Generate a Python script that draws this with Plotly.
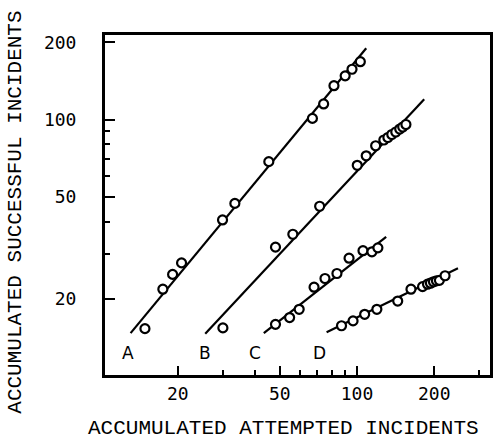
import numpy as np
import plotly.graph_objects as go

# ---- data (log-log) ----
a_x = [14.9, 17.5, 19.1, 20.7, 29.9, 33.4, 45.3, 67.0, 74.1, 81.3, 89.9, 95.6, 103]
a_y = [15.3, 21.8, 24.9, 27.6, 40.6, 47.1, 68.5, 101, 115, 135.5, 148, 157, 168]
a_fit_x = [13.1, 108.6]
a_fit_y = [14.7, 189.5]

b_x = [30.0, 48.1, 56.2, 71.5, 100.2, 108.6, 118.2, 127.2, 131.9, 136.6, 141.6, 146.7, 150.7, 155.1]
b_y = [15.4, 31.8, 35.7, 45.9, 66.3, 72.2, 79.0, 83.2, 85.1, 87.4, 89.4, 91.8, 93.5, 95.6]
b_fit_x = [25.6, 182.8]
b_fit_y = [14.6, 119.9]

c_x = [48.1, 54.6, 59.5, 68.0, 75.0, 83.5, 93.1, 105.5, 114.3, 120.6]
c_y = [15.9, 16.9, 18.2, 22.2, 24.0, 25.1, 28.8, 30.8, 30.5, 31.6]
c_fit_x = [43.3, 129.9]
c_fit_y = [14.7, 34.9]

d_x = [87.0, 96.5, 107.1, 119.5, 144.1, 162.3, 180.1, 188.3, 193.3, 198.6, 204.0, 209.5, 220.4]
d_y = [15.7, 16.4, 17.4, 18.2, 19.6, 21.8, 22.3, 22.8, 23.0, 23.3, 23.5, 23.6, 24.6]
d_fit_x = [76.1, 247.5]
d_fit_y = [14.8, 26.3]

series_labels = ["A", "B", "C", "D"]
label_x = [12.75, 25.5, 40.0, 71.1]
label_y = [12.26, 12.26, 12.26, 12.26]

x_tickvals = [20, 50, 100, 200]
x_ticktext = ["20", "50", "100", "200"]
x_minor = [30, 40, 60, 70, 80, 90, 300]
y_tickvals = [20, 50, 100, 200]
y_ticktext = ["20", "50", "100", "200"]
y_minor = [30, 40, 60, 70, 80, 90]

x_title = "ACCUMULATED ATTEMPTED INCIDENTS"
y_title = "ACCUMULATED SUCCESSFUL INCIDENTS"

fig = go.Figure()
series = [(a_x, a_y, a_fit_x, a_fit_y), (b_x, b_y, b_fit_x, b_fit_y),
          (c_x, c_y, c_fit_x, c_fit_y), (d_x, d_y, d_fit_x, d_fit_y)]
for sx, sy, fx, fy in series:
    fig.add_trace(go.Scatter(x=fx, y=fy, mode="lines",
                             line=dict(color="black", width=2.2),
                             showlegend=False, hoverinfo="skip"))
for sx, sy, fx, fy in series:
    fig.add_trace(go.Scatter(x=sx, y=sy, mode="markers",
                             marker=dict(symbol="circle", size=9, color="white",
                                         line=dict(color="black", width=2.2)),
                             showlegend=False))

for lab, lx, ly in zip(series_labels, label_x, label_y):
    fig.add_annotation(x=np.log10(lx), y=np.log10(ly), text=lab, showarrow=False,
                       xref="x", yref="y",
                       font=dict(family="DejaVu Sans", size=17, color="black"))

L, R, T, B = 105, 2, 35, 67
W, H = 495, 442
pw, ph = W - L - R, H - T - B

fig.add_annotation(text=x_title, xref="paper", yref="paper",
                   x=(285 - L) / pw, y=(H - B - 429) / ph, showarrow=False,
                   xanchor="center", yanchor="middle", borderpad=0,
                   font=dict(family="Liberation Mono", size=21, color="black"))
fig.add_annotation(text=y_title, xref="paper", yref="paper", textangle=-90,
                   x=(15 - L) / pw, y=(H - B - 212) / ph, showarrow=False,
                   xanchor="center", yanchor="middle", borderpad=0,
                   font=dict(family="Liberation Mono", size=21, color="black"))

fig.update_xaxes(type="log", range=[1.0175, 2.5184],
                 tickvals=x_tickvals, ticktext=x_ticktext,
                 ticks="inside", ticklen=9, tickwidth=2, tickcolor="black",
                 minor=dict(tickvals=x_minor, ticks="inside", ticklen=5,
                            tickwidth=2, tickcolor="black"),
                 showline=True, linewidth=3, linecolor="black", mirror=True,
                 showgrid=False, zeroline=False, ticklabelstandoff=0,
                 tickfont=dict(family="DejaVu Sans Mono", size=18, color="black"))
fig.update_yaxes(type="log", range=[1.0039, 2.3295],
                 tickvals=y_tickvals, ticktext=y_ticktext,
                 ticks="inside", ticklen=10, tickwidth=2, tickcolor="black",
                 minor=dict(tickvals=y_minor, ticks="inside", ticklen=5,
                            tickwidth=2, tickcolor="black"),
                 showline=True, linewidth=3, linecolor="black", mirror=True,
                 showgrid=False, zeroline=False, ticklabelstandoff=22,
                 tickfont=dict(family="DejaVu Sans Mono", size=18, color="black"))

fig.update_layout(width=W, height=H, margin=dict(l=L, r=R, t=T, b=B),
                  plot_bgcolor="white", paper_bgcolor="white", showlegend=False)

fig.write_html("out.html")
